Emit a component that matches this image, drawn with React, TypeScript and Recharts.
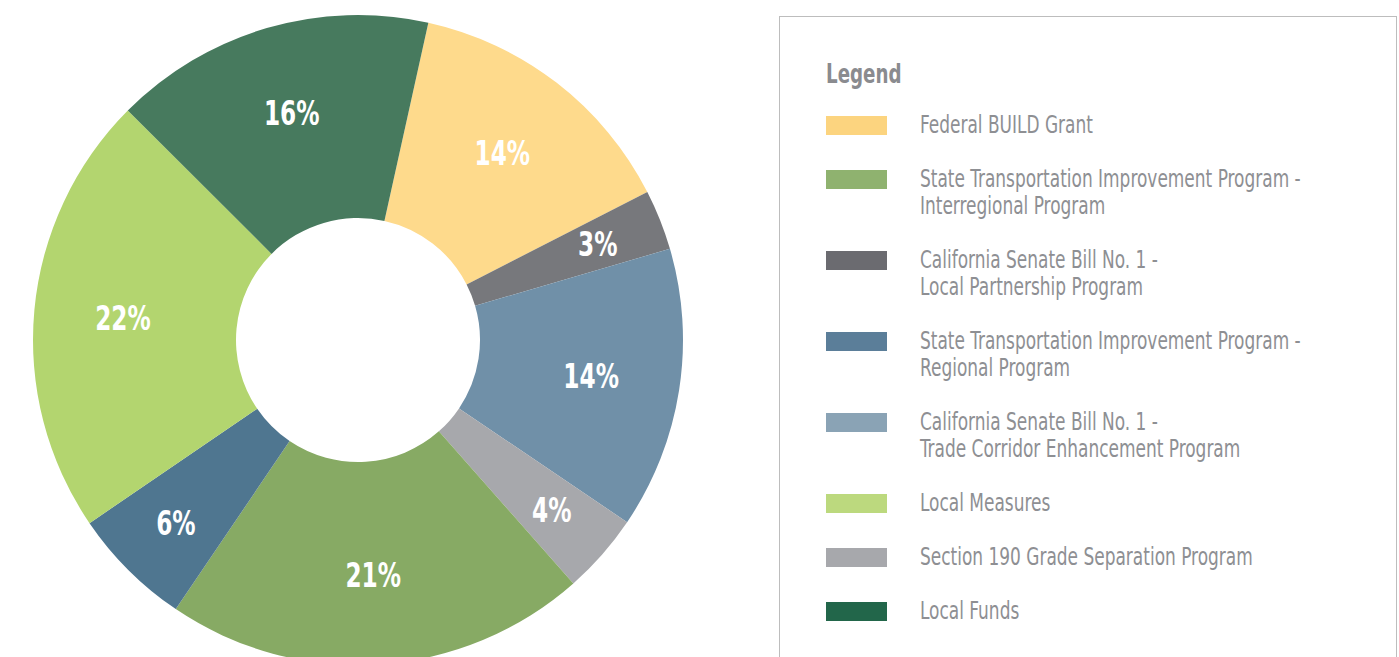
import React from "react";
import { PieChart, Pie, Cell, Legend } from "recharts";

// Slices in clockwise order starting near the top
const categories: string[] = [
  "Federal BUILD Grant",
  "California Senate Bill No. 1 - Local Partnership Program",
  "California Senate Bill No. 1 - Trade Corridor Enhancement Program",
  "Section 190 Grade Separation Program",
  "State Transportation Improvement Program - Interregional Program",
  "State Transportation Improvement Program - Regional Program",
  "Local Measures",
  "Local Funds",
];
const shares: number[] = [14, 3, 14, 4, 21, 6, 22, 16];
const sliceColors: string[] = [
  "#FEDA8C",
  "#77787C",
  "#7090A8",
  "#A7A8AC",
  "#87AA64",
  "#4F7690",
  "#B3D56F",
  "#477A5E",
];

// Legend (order and line breaks as shown)
const legendTitle = "Legend";
const legendLines: string[][] = [
  ["Federal BUILD Grant"],
  ["State Transportation Improvement Program -", "Interregional Program"],
  ["California Senate Bill No. 1 -", "Local Partnership Program"],
  ["State Transportation Improvement Program -", "Regional Program"],
  ["California Senate Bill No. 1 -", "Trade Corridor Enhancement Program"],
  ["Local Measures"],
  ["Section 190 Grade Separation Program"],
  ["Local Funds"],
];
const legendColors: string[] = [
  "#FCD47F",
  "#8FB26F",
  "#6B6B70",
  "#5B7E99",
  "#8AA3B5",
  "#BCD97E",
  "#A7A8AC",
  "#22664A",
];

const data = categories.map((name, i) => ({ name, value: shares[i] }));

const RADIAN = Math.PI / 180;
const NARROW = "'DejaVu Sans Condensed', 'DejaVu Sans', sans-serif";

const renderLabel = (props: any) => {
  const { cx, cy, midAngle, value } = props;
  const r = value < 10 ? 258 : 236;
  const x = cx + r * Math.cos(-midAngle * RADIAN);
  const y = cy + r * Math.sin(-midAngle * RADIAN);
  return (
    <text
      transform={`translate(${x} ${y}) scale(0.76 1)`}
      x={0}
      y={0}
      fill="#FFFFFF"
      textAnchor="middle"
      dominantBaseline="central"
      style={{ fontFamily: NARROW, fontWeight: 700, fontSize: 34 }}
    >
      {`${value}%`}
    </text>
  );
};

const LegendBox = () => (
  <div
    style={{
      width: 618,
      height: 700,
      boxSizing: "border-box",
      border: "1px solid #BDBDBD",
      background: "#FFFFFF",
      position: "relative",
      fontFamily: NARROW,
    }}
  >
    <div
      style={{
        position: "absolute",
        left: 46,
        top: 40,
        fontSize: 26,
        fontWeight: 700,
        color: "#8A8B8F",
        lineHeight: "34px",
        transform: "scaleX(0.78)",
        transformOrigin: "left center",
      }}
    >
      {legendTitle}
    </div>
    <div style={{ position: "absolute", left: 46, top: 94 }}>
      {legendLines.map((lines, i) => (
        <div key={i} style={{ display: "flex", marginBottom: 27 }}>
          <div style={{ width: 61, height: 19, marginTop: 4.5, background: legendColors[i], flexShrink: 0 }} />
          <div
            style={{
              marginLeft: 33,
              fontSize: 25,
              lineHeight: "27px",
              color: "#8E8F93",
              whiteSpace: "nowrap",
              transform: "scaleX(0.755)",
              transformOrigin: "left center",
            }}
          >
            {lines.map((l, j) => (
              <div key={j}>{l}</div>
            ))}
          </div>
        </div>
      ))}
    </div>
  </div>
);

export default function App() {
  return (
    <div style={{ width: 1399, height: 657, overflow: "hidden", position: "relative", background: "#FFFFFF" }}>
      <style>{`body{margin:0;}`}</style>
      <PieChart width={1399} height={657} margin={{ top: 0, right: 0, bottom: 0, left: 0 }}>
        <Pie
          data={data}
          dataKey="value"
          nameKey="name"
          cx={358}
          cy={340}
          innerRadius={122}
          outerRadius={325}
          startAngle={77.5}
          endAngle={-282.5}
          stroke="none"
          label={renderLabel}
          labelLine={false}
          isAnimationActive={false}
        >
          {data.map((d, i) => (
            <Cell key={d.name} fill={sliceColors[i]} />
          ))}
        </Pie>
        <Legend
          content={() => <LegendBox />}
          wrapperStyle={{ position: "absolute", left: 779, top: 16, width: 618, height: 700 }}
        />
      </PieChart>
    </div>
  );
}
